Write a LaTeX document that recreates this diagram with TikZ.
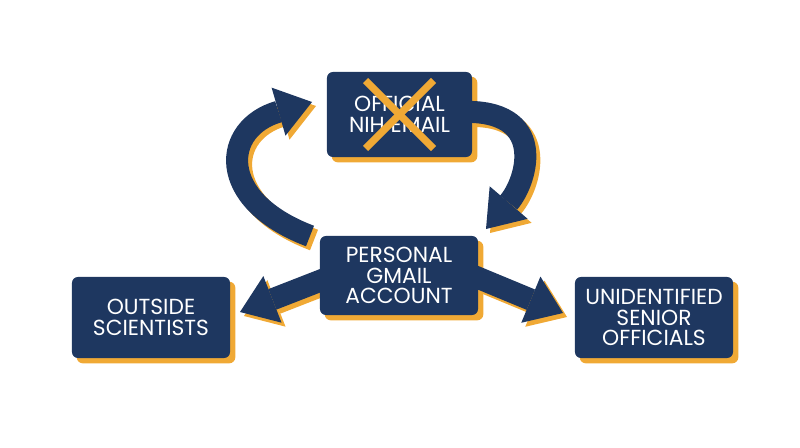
\documentclass[tikz,border=0pt]{standalone}
\usepackage{fontspec}
\setmainfont{Poppins}
\usetikzlibrary{arrows.meta, backgrounds}
\definecolor{navyblue}{HTML}{1E3760}
\definecolor{mygold}{HTML}{F0A935}
\pgfdeclarelayer{shade}
\pgfsetlayers{shade,background,main}
\tikzset{
	boxnode/.style={
			rectangle,
			rounded corners=0.15cm,
			fill=navyblue,
			text=white,
			align=center,
			font=\fontsize{15.5pt}{14.8pt}\selectfont,
			inner sep=0pt
		},
	boxshade/.style={
			fill=mygold,
			rounded corners=0.15cm
		},
	bigarrow/.style={
			draw=navyblue,
			line width=0.55cm,
			-{Triangle[length=0.87cm, width=1.25cm, line width=0pt]}
		},
	arrowshade/.style={
			bigarrow,
			draw=mygold,
			-{Triangle[length=0.87cm, width=1.25cm, line width=0pt, fill=mygold]},
			transform canvas={xshift=0.1cm, yshift=-0.1cm}
		},
	crossmark/.style={
			draw=mygold,
			line width=0.18cm
		}
}

\begin{document}
\begin{tikzpicture}[x=0.025cm, y=-0.025cm]
\useasboundingbox (0,0) rectangle (800,447);
    \node[boxnode, minimum width=3.625cm, minimum height=2.125cm] (nih) at (399.5,114.5) {OFFICIAL\\NIH EMAIL};
    \node[boxnode, minimum width=3.95cm, minimum height=1.975cm] (gmail) at (399,275.5) {PERSONAL\\GMAIL\\ACCOUNT};
    \node[boxnode, minimum width=3.95cm, minimum height=2.025cm] (outside) at (151,317.5) {OUTSIDE\\SCIENTISTS};
    \node[boxnode, minimum width=3.95cm, minimum height=2.025cm] (senior) at (654,317.5) {UNIDENTIFIED\\SENIOR\\OFFICIALS};

    % struck-out official channel
    \draw[crossmark] ([shift={(-34,-34)}]nih.center) -- ([shift={(34,34)}]nih.center);
    \draw[crossmark] ([shift={(34,-34)}]nih.center) -- ([shift={(-34,34)}]nih.center);

    \coordinate (looptail) at (310,236);
    \coordinate (looptip) at (312,102);
    \coordinate (nihexit) at (460,112);
    \coordinate (nihtip) at (486,229);
    \coordinate (outexit) at (340,273);
    \coordinate (outtip) at (240,312);
    \coordinate (seniorexit) at (440,262);
    \coordinate (seniortip) at (563,313);

    \begin{pgfonlayer}{shade}
    \foreach \b in {nih, gmail, outside, senior}
        \fill[boxshade] ([shift={(5,5)}]\b.north west) rectangle ([shift={(5,5)}]\b.south east);
    \end{pgfonlayer}

    \begin{scope}[on background layer]
    \draw[arrowshade] (looptail) .. controls (215,200) and (222,128) .. (looptip);
    \draw[arrowshade] (nihexit) .. controls (548,108) and (528,180) .. (nihtip);
    \draw[arrowshade] (outexit) -- (outtip);
    \draw[arrowshade] (seniorexit) -- (seniortip);

    \draw[bigarrow] (looptail) .. controls (215,200) and (222,128) .. (looptip);
    \draw[bigarrow] (nihexit) .. controls (548,108) and (528,180) .. (nihtip);
    \draw[bigarrow] (outexit) -- (outtip);
    \draw[bigarrow] (seniorexit) -- (seniortip);
    \end{scope}

\end{tikzpicture}
\end{document}
